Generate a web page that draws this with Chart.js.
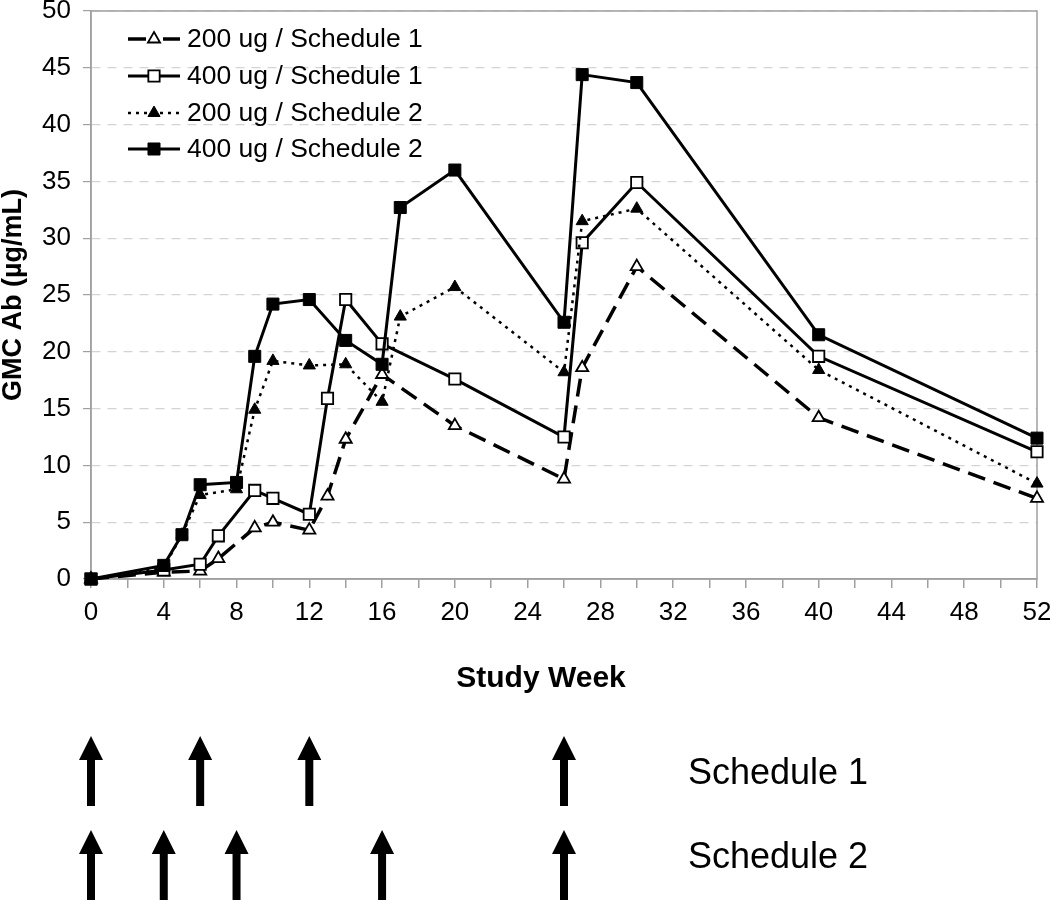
<!DOCTYPE html>
<html><head><meta charset="utf-8">
<script src="https://cdn.jsdelivr.net/npm/chart.js@4.4.1/dist/chart.umd.min.js"></script>
<style>html,body{margin:0;padding:0;background:#fff;}</style>
</head><body>
<canvas id="c" width="1050" height="901"></canvas>
<script>
// ---- data ----
const seriesNames = ['200 ug / Schedule 1', '400 ug / Schedule 1', '200 ug / Schedule 2', '400 ug / Schedule 2'];
const weeksA = [0, 4, 6, 7, 9, 10, 12, 13, 14, 16, 20, 26, 27, 30, 40, 52];
const valuesA = [0, 0.6, 0.7, 1.8, 4.5, 5.0, 4.3, 7.3, 12.3, 18.0, 13.5, 8.8, 18.6, 27.5, 14.2, 7.1];
const weeksB = [0, 4, 6, 7, 9, 10, 12, 13, 14, 16, 20, 26, 27, 30, 40, 52];
const valuesB = [0, 0.8, 1.3, 3.8, 7.8, 7.1, 5.7, 15.9, 24.6, 20.7, 17.6, 12.5, 29.6, 34.9, 19.6, 11.2];
const weeksC = [0, 4, 5, 6, 8, 9, 10, 12, 14, 16, 17, 20, 26, 27, 30, 40, 52];
const valuesC = [0, 1.0, 3.9, 7.4, 7.9, 14.9, 19.2, 18.8, 18.9, 15.6, 23.1, 25.7, 18.2, 31.5, 32.6, 18.4, 8.4];
const weeksD = [0, 4, 5, 6, 8, 9, 10, 12, 14, 16, 17, 20, 26, 27, 30, 40, 52];
const valuesD = [0, 1.2, 3.9, 8.3, 8.5, 19.6, 24.2, 24.6, 21.0, 18.9, 32.7, 36.0, 22.6, 44.4, 43.7, 21.5, 12.4];
const xTickLabels = ['0','4','8','12','16','20','24','28','32','36','40','44','48','52'];
const yTickLabels = ['0','5','10','15','20','25','30','35','40','45','50'];
const schedule1Weeks = [0, 6, 12, 26];
const schedule2Weeks = [0, 4, 8, 16, 26];
const scheduleLabels = ['Schedule 1', 'Schedule 2'];
const xTitle = 'Study Week';
const yTitle = 'GMC Ab (µg/mL)';

const FONT = "'Liberation Sans', Arial, sans-serif";
const pts = (w, v) => w.map((x, i) => ({x: x, y: v[i]}));

const datasets = [
  {label: seriesNames[0], data: pts(weeksA, valuesA), order: 3, borderColor:'#000', borderWidth:3.5, borderDash:[18,9],
   pointStyle:'triangle', pointRadius:7, pointBackgroundColor:'#fff', pointBorderColor:'#000', pointBorderWidth:1.8},
  {label: seriesNames[1], data: pts(weeksB, valuesB), order: 2, borderColor:'#000', borderWidth:3,
   pointStyle:'rect', pointRadius:8, pointBackgroundColor:'#fff', pointBorderColor:'#000', pointBorderWidth:1.8},
  {label: seriesNames[2], data: pts(weeksC, valuesC), order: 1, borderColor:'#000', borderWidth:2.5, borderDash:[3,5],
   pointStyle:'triangle', pointRadius:7, pointBackgroundColor:'#000', pointBorderColor:'#000', pointBorderWidth:1},
  {label: seriesNames[3], data: pts(weeksD, valuesD), order: 0, borderColor:'#000', borderWidth:3,
   pointStyle:'rect', pointRadius:8.5, pointBackgroundColor:'#000', pointBorderColor:'#000', pointBorderWidth:1}
];
datasets.forEach(d => { d.fill = false; d.tension = 0; d.clip = false; d.backgroundColor = d.pointBackgroundColor; });

function drawArrow(ctx, x, top, bottom) {
  const headH = 24, headW = 12, shaftW = 4;
  ctx.beginPath();
  ctx.moveTo(x, top);
  ctx.lineTo(x + headW, top + headH);
  ctx.lineTo(x + shaftW, top + headH);
  ctx.lineTo(x + shaftW, bottom);
  ctx.lineTo(x - shaftW, bottom);
  ctx.lineTo(x - shaftW, top + headH);
  ctx.lineTo(x - headW, top + headH);
  ctx.closePath();
  ctx.fill();
}

const extras = {
  id: 'extras',
  afterDraw(chart) {
    const ctx = chart.ctx, xs = chart.scales.x;
    ctx.save();
    // legend
    const rowsY = [39, 76, 113, 149];
    chart.data.datasets.forEach((d, i) => {
      const y = rowsY[i];
      ctx.save();
      ctx.strokeStyle = '#000'; ctx.lineWidth = d.borderWidth;
      ctx.setLineDash(i === 0 ? [] : (d.borderDash || []));
      if (i === 0) {
        ctx.beginPath(); ctx.moveTo(128, y); ctx.lineTo(146, y); ctx.moveTo(163, y); ctx.lineTo(180, y); ctx.stroke();
      } else {
        ctx.beginPath(); ctx.moveTo(128, y); ctx.lineTo(180, y); ctx.stroke();
      }
      ctx.setLineDash([]);
      ctx.fillStyle = d.pointBackgroundColor; ctx.strokeStyle = '#000'; ctx.lineWidth = d.pointBorderWidth;
      Chart.helpers.drawPoint(ctx, {pointStyle: d.pointStyle, radius: d.pointRadius, borderWidth: d.pointBorderWidth, rotation: 0}, 154, y);
      ctx.restore();
      ctx.fillStyle = '#000'; ctx.font = '26.5px ' + FONT; ctx.textBaseline = 'middle'; ctx.textAlign = 'left';
      ctx.fillText(d.label, 187, y + 1);
    });
    // x axis title
    ctx.fillStyle = '#000'; ctx.font = 'bold 30px ' + FONT; ctx.textAlign = 'center'; ctx.textBaseline = 'middle';
    ctx.fillText(xTitle, 541, 679);
    // arrows
    schedule1Weeks.forEach(w => drawArrow(ctx, xs.getPixelForValue(w), 736, 806));
    schedule2Weeks.forEach(w => drawArrow(ctx, xs.getPixelForValue(w), 830, 900));
    ctx.font = '36px ' + FONT; ctx.textBaseline = 'alphabetic'; ctx.textAlign = 'left';
    ctx.fillText(scheduleLabels[0], 688, 784);
    ctx.fillText(scheduleLabels[1], 688, 868);
    ctx.restore();
  },
  beforeDatasetsDraw(chart) {
    const ctx = chart.ctx, a = chart.chartArea;
    ctx.save();
    ctx.strokeStyle = '#a0a0a0'; ctx.lineWidth = 1.5; ctx.setLineDash([]);
    ctx.strokeRect(a.left, a.top, a.right - a.left, a.bottom - a.top);
    ctx.restore();
  }
};

new Chart(document.getElementById('c'), {
  type: 'line',
  data: {datasets: datasets},
  plugins: [extras],
  options: {
    responsive: false,
    animation: false,
    layout: {padding: {top: 11, right: 13, left: 0, bottom: 197}},
    plugins: {legend: {display: false}, tooltip: {enabled: false}},
    scales: {
      x: {
        type: 'linear', min: 0, max: 52,
        afterFit(s) { s.height = 125; s.paddingLeft = 0; s.paddingRight = 0; },
        ticks: {stepSize: 2, autoSkip: false, maxRotation: 0, padding: 9, color: '#000',
          font: {family: FONT, size: 26},
          callback: v => (v % 4 === 0 ? xTickLabels[v / 4] : '')},
        grid: {drawOnChartArea: false, drawTicks: true, tickLength: 9, color: '#a0a0a0', lineWidth: 1.5},
        border: {color: '#a0a0a0', width: 1.5},
        title: {display: false}
      },
      y: {
        min: 0, max: 50,
        afterFit(s) { s.width = 91; s.paddingTop = 0; s.paddingBottom = 0; },
        ticks: {stepSize: 5, padding: 12, color: '#000', font: {family: FONT, size: 26},
          callback: v => yTickLabels[v / 5]},
        grid: {color: '#d4d4d4', lineWidth: 1.2, tickLength: 8, tickColor: '#a0a0a0', drawTicks: true},
        border: {color: '#a0a0a0', width: 1.5, dash: [9, 7]},
        title: {display: true, text: yTitle, color: '#000', font: {family: FONT, size: 27, weight: 'bold', lineHeight: 1}, padding: 0}
      }
    }
  }
});
</script>
</body></html>
